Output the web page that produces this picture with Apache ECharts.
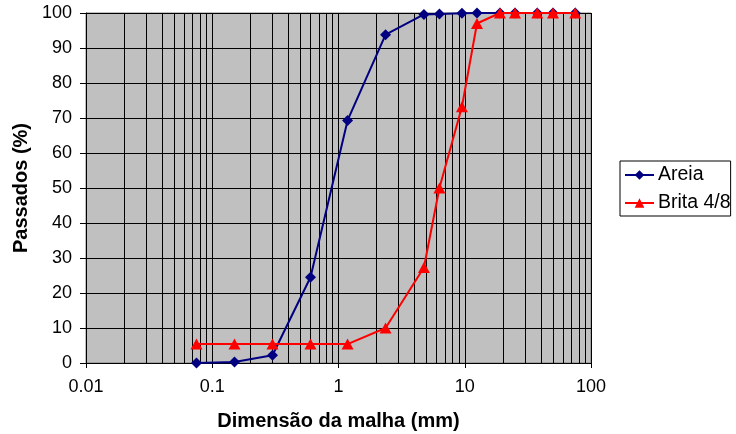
<!DOCTYPE html>
<html>
<head>
<meta charset="utf-8">
<script src="https://cdn.jsdelivr.net/npm/echarts@6/dist/echarts.min.js"></script>
<style>
html,body{margin:0;padding:0;background:#fff;}
#chart{width:736px;height:434px;}
</style>
</head>
<body>
<div id="chart"></div>
<script>
// Sieve sizes (mm)
const sieveSizes = [0.075, 0.15, 0.3, 0.6, 1.18, 2.36, 4.75, 6.3, 9.5, 12.5, 19, 25, 37.5, 50, 75];
// Percent passing
const areiaValues = [0, 0.3, 2.2, 24.5, 69.3, 93.8, 99.6, 99.7, 99.9, 100, 100, 100, 100, 100, 100];
const britaValues = [5.4, 5.4, 5.4, 5.4, 5.4, 10, 27.3, 50, 73.2, 97, 100, 100, 100, 100, 100];
// Axis ticks / grid
const xTickLabels = ['0.01', '0.1', '1', '10', '100'];
const yTickValues = [0, 10, 20, 30, 40, 50, 60, 70, 80, 90, 100];
const minorGridX = [0.02, 0.03, 0.04, 0.05, 0.06, 0.07, 0.08, 0.09,
                    0.2, 0.3, 0.4, 0.5, 0.6, 0.7, 0.8, 0.9,
                    2, 3, 4, 5, 6, 7, 8, 9,
                    20, 30, 40, 50, 60, 70, 80, 90];
const seriesNames = ['Areia', 'Brita 4/8'];

const FONT = 'Arial, "Liberation Sans", sans-serif';
const pair = (xs, ys) => xs.map((x, i) => [x, ys[i]]);

const chart = echarts.init(document.getElementById('chart'), null, {renderer: 'canvas'});
chart.setOption({
  animation: false,
  backgroundColor: '#ffffff',
  textStyle: {fontFamily: FONT},
  grid: {
    left: 86, right: 145, top: 13, bottom: 71,
    containLabel: false,
    outerBoundsMode: 'none',
    show: true,
    backgroundColor: '#C0C0C0',
    borderColor: '#808080',
    borderWidth: 1
  },
  legend: {
    data: seriesNames,
    orient: 'vertical',
    left: 620, top: 161,
    padding: [4, 0, 3, 4],
    itemGap: 8,
    itemWidth: 29,
    itemHeight: 12,
    borderColor: '#000',
    borderWidth: 1,
    backgroundColor: '#fff',
    textStyle: {fontFamily: FONT, fontSize: 19.5, color: '#000', padding: [0, 0, 0, -1]}
  },
  xAxis: {
    type: 'log',
    logBase: 10,
    min: 0.01,
    max: 100,
    name: 'Dimensão da malha (mm)',
    nameLocation: 'middle',
    nameGap: 48,
    nameTextStyle: {fontFamily: FONT, fontSize: 20, fontWeight: 'bold', color: '#000'},
    axisLine: {show: true, onZero: false, lineStyle: {color: '#000', width: 1}},
    axisTick: {show: true, inside: false, length: 5, lineStyle: {color: '#000'}},
    axisLabel: {
      fontFamily: FONT, fontSize: 18, color: '#000', margin: 15,
      formatter: function (v) {
        const idx = Math.round(Math.log10(v)) + 2;
        return xTickLabels[idx] !== undefined ? xTickLabels[idx] : '';
      }
    },
    splitLine: {show: true, lineStyle: {color: '#000', width: 1}},
    minorTick: {show: false},
    minorSplitLine: {show: false}
  },
  yAxis: {
    type: 'value',
    min: yTickValues[0],
    max: yTickValues[yTickValues.length - 1],
    interval: 10,
    name: 'Passados (%)',
    nameLocation: 'middle',
    nameGap: 53,
    nameTextStyle: {fontFamily: FONT, fontSize: 20, fontWeight: 'bold', color: '#000'},
    axisLine: {show: true, lineStyle: {color: '#000', width: 1}},
    axisTick: {show: true, inside: false, length: 6, lineStyle: {color: '#000'}},
    axisLabel: {fontFamily: FONT, fontSize: 18, color: '#000', margin: 14},
    splitLine: {show: true, lineStyle: {color: '#000', width: 1}}
  },
  series: [
    {
      name: 'gridMinor',
      type: 'line',
      data: [],
      z: 1,
      silent: true,
      markLine: {
        z: 1,
        silent: true,
        animation: false,
        symbol: ['none', 'none'],
        label: {show: false},
        emphasis: {disabled: true},
        lineStyle: {color: '#000', width: 1, type: 'solid'},
        data: minorGridX.map(v => ({xAxis: v}))
      }
    },
    {
      name: seriesNames[0],
      type: 'line',
      z: 3,
      data: pair(sieveSizes, areiaValues),
      symbol: 'diamond',
      symbolSize: 11,
      lineStyle: {color: '#000080', width: 2},
      itemStyle: {color: '#000080'}
    },
    {
      name: seriesNames[1],
      type: 'line',
      z: 4,
      data: pair(sieveSizes, britaValues),
      symbol: 'triangle',
      symbolSize: [12, 11],
      lineStyle: {color: '#FF0000', width: 2},
      itemStyle: {color: '#FF0000'}
    }
  ]
});
</script>
</body>
</html>
